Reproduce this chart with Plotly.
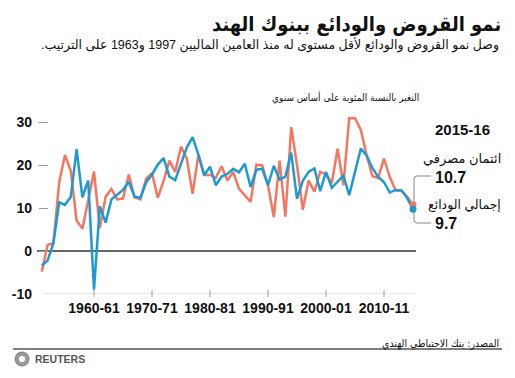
import plotly.graph_objects as go

years = list(range(1951, 2016))
credit = [-4.8, 1.4, 1.8, 16.0, 22.3, 18.6, 7.1, 5.2, 11.8, 18.5,
          5.3, 12.6, 14.4, 12.0, 12.2, 17.8, 12.5, 12.0, 16.8, 18.1,
          12.4, 16.3, 21.0, 18.4, 24.3, 21.5, 13.3, 22.4, 17.7, 17.7,
          17.0, 19.7, 16.4, 18.4, 14.5, 13.0, 11.4, 20.1, 19.9, 15.3,
          7.9, 21.0, 8.0, 28.8, 20.0, 9.6, 16.4, 13.8, 18.4, 17.8,
          15.8, 23.8, 15.3, 30.9, 30.9, 28.2, 22.3, 17.4, 17.0, 21.5,
          17.2, 14.1, 14.0, 12.6, 10.7]
deposits = [-3.4, -2.2, 1.8, 11.3, 10.7, 12.6, 23.7, 12.5, 16.4, -9.0,
            10.4, 6.6, 12.0, 13.0, 14.2, 16.1, 12.6, 12.4, 16.0, 17.8,
            20.1, 21.6, 17.3, 16.5, 20.3, 24.1, 26.5, 22.4, 17.6, 19.6,
            15.3, 17.3, 17.9, 19.1, 18.3, 20.3, 14.9, 18.9, 19.1, 15.3,
            19.8, 16.6, 17.3, 22.9, 12.1, 16.3, 18.4, 19.2, 13.9, 18.4,
            14.7, 16.0, 17.5, 13.0, 18.4, 23.8, 22.2, 19.3, 17.2, 16.0,
            13.6, 14.2, 14.1, 12.3, 9.7]
tick_years = [1960, 1970, 1980, 1990, 2000, 2010]
tick_labels = ["1960-61", "1970-71", "1980-81", "1990-91", "2000-01", "2010-11"]
y_ticks = [-10, 0, 10, 20, 30]
y_tick_labels = ["-10", "0", "10", "20", "30"]

ORANGE = "#F47560"
BLUE = "#1E9AD3"
FONT = "Arial, Liberation Sans, DejaVu Sans, sans-serif"
CFONT = "DejaVu Sans Condensed, DejaVu Sans, sans-serif"
RLM = "\u200f"

W, H = 515, 378
L, R, T, B = 39, 94, 108, 84
PW, PH = W - L - R, H - T - B


def PX(x):
    return (x - L) / PW


def PY(y):
    return (H - B - y) / PH


x0 = 1960 - (94 - L) / 5.8
x1 = x0 + PW / 5.8
ymin = -10
ymax = (H - B - T) / 4.3 + ymin

fig = go.Figure()
fig.add_trace(go.Scatter(x=years, y=credit, mode="lines",
                         line=dict(color=ORANGE, width=2.5), hoverinfo="skip"))
fig.add_trace(go.Scatter(x=years, y=deposits, mode="lines",
                         line=dict(color=BLUE, width=2.5), hoverinfo="skip"))
fig.add_trace(go.Scatter(x=[years[-1]], y=[credit[-1]], mode="markers",
                         marker=dict(color=ORANGE, size=7), hoverinfo="skip", cliponaxis=False))
fig.add_trace(go.Scatter(x=[years[-1]], y=[deposits[-1]], mode="markers",
                         marker=dict(color=BLUE, size=7), hoverinfo="skip", cliponaxis=False))

shapes = []
shapes.append(dict(type="line", xref="paper", yref="y", x0=PX(37), x1=PX(416), y0=0, y1=0,
                   line=dict(color="#333333", width=1.3), layer="below"))
shapes.append(dict(type="line", xref="paper", yref="y", x0=PX(43), x1=PX(415), y0=-10, y1=-10,
                   line=dict(color="#cccccc", width=1), layer="below"))
for ty in tick_years:
    shapes.append(dict(type="line", xref="x", yref="paper", x0=ty, x1=ty, y0=PY(290), y1=PY(297),
                       line=dict(color="#999999", width=1)))
shapes.append(dict(type="path", xref="paper", yref="paper",
                   path=f"M {PX(431)},{PY(176)} L {PX(417)},{PY(176)} Q {PX(414)},{PY(176)} {PX(414)},{PY(179)} L {PX(414)},{PY(203)}",
                   line=dict(color="#888888", width=1)))
shapes.append(dict(type="path", xref="paper", yref="paper",
                   path=f"M {PX(414)},{PY(212)} L {PX(414)},{PY(220)} Q {PX(414)},{PY(223)} {PX(417)},{PY(223)} L {PX(431)},{PY(223)}",
                   line=dict(color="#888888", width=1)))
shapes.append(dict(type="line", xref="paper", yref="paper", x0=PX(13), x1=PX(502), y0=PY(349), y1=PY(349),
                   line=dict(color="#555555", width=1.5)))
shapes.append(dict(type="circle", xref="paper", yref="paper", x0=PX(15), x1=PX(29), y0=PY(366), y1=PY(352),
                   fillcolor="#9a9a9a", line=dict(color="#7a7a7a", width=1)))
shapes.append(dict(type="circle", xref="paper", yref="paper", x0=PX(19), x1=PX(25), y0=PY(362), y1=PY(356),
                   fillcolor="#ffffff", line=dict(width=0)))

ann = []


def add(text, x, y, size, xanchor="right", color="#111111", bold=False, family=FONT):
    ann.append(dict(text=text, xref="paper", yref="paper", x=PX(x), y=PY(y), xanchor=xanchor,
                    yanchor="middle", showarrow=False,
                    font=dict(family=family, size=size, color=color, weight="bold" if bold else "normal")))


add(RLM + "نمو القروض والودائع ببنوك الهند" + RLM, 503, 24, 20, bold=True, family=CFONT)
add(RLM + "وصل نمو القروض والودائع لأقل مستوى له منذ العامين الماليين 1997 و1963 على الترتيب." + RLM, 501, 45, 12.5)
add(RLM + "التغير بالنسبة المئوية على أساس سنوي" + RLM, 421, 97, 10, family=CFONT)
add("2015-16", 433, 129, 15, xanchor="left", bold=True)
add(RLM + "ائتمان مصرفي" + RLM, 503, 159, 13)
add("10.7", 433, 177, 16, xanchor="left", bold=True)
add(RLM + "إجمالي الودائع" + RLM, 503, 205, 12.5)
add("9.7", 433, 223, 16, xanchor="left", bold=True)
add(RLM + "المصدر: بنك الاحتياطي الهندي" + RLM, 501, 343, 10.5, family=CFONT)
add("REUTERS", 33, 359, 10.5, xanchor="left", color="#555555", bold=True)

fig.update_layout(
    width=W, height=H, margin=dict(l=L, r=R, t=T, b=B),
    paper_bgcolor="white", plot_bgcolor="white", showlegend=False,
    shapes=shapes, annotations=ann,
    xaxis=dict(range=[x0, x1], tickvals=tick_years, ticktext=tick_labels, showgrid=False,
               zeroline=False, showline=False, ticks="", ticklabelstandoff=4,
               tickfont=dict(family=FONT, size=14, color="#111111", weight="bold")),
    yaxis=dict(range=[ymin, ymax], tickvals=y_ticks, ticktext=y_tick_labels, showgrid=False,
               zeroline=False, showline=False, ticks="inside", ticklen=9, tickcolor="#999999",
               ticklabelstandoff=6,
               tickfont=dict(family=FONT, size=14, color="#111111", weight="bold")),
)

fig.write_html("out.html", config={"displayModeBar": False},
               post_script="document.body.style.margin='0';document.body.style.overflow='hidden';")
